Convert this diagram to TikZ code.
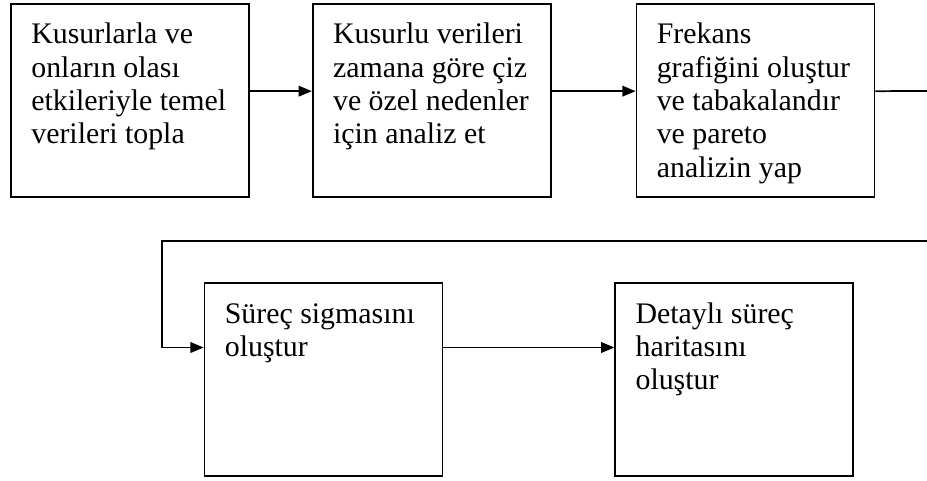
\documentclass[tikz,border=0pt]{standalone}
\usepackage{fontspec}
\setmainfont{Liberation Serif}
\usetikzlibrary{positioning,arrows.meta}
\newcommand{\steptext}[1]{\parbox[c][144.75pt][t]{148pt}{\raggedright\rule{0pt}{30pt}#1}}
\tikzset{
>={Triangle[length=10pt,width=8pt]},
  stepbox/.style={
    rectangle,
    draw=black, line width=1.3pt,
    inner xsep=15pt, inner ysep=0pt,
    minimum width=178.5pt,
    minimum height=144.75pt,
    font=\fontsize{22.4pt}{25pt}\selectfont},
  line/.style={draw, line width=1.3pt, ->},
  plainline/.style={draw, line width=1.3pt},
}

\begin{document}
\begin{tikzpicture}
  [x=0.75pt, y=-0.75pt,
  node distance=46.5pt]
  \useasboundingbox (0,0) rectangle (927,481);
     \node[stepbox] (TemelVeri) at (130,100.5) {\steptext{Kusurlarla ve\\onların olası\\etkileriyle temel\\verileri topla}};
     \node[stepbox, right=of TemelVeri] (ZamanaGore) {\steptext{Kusurlu verileri\\zamana göre çiz\\ve özel nedenler\\için analiz et}};
     \node[stepbox, right=63pt of ZamanaGore] (Frekans) {\steptext{Frekans\\grafiğini oluştur\\ve tabakalandır\\ve pareto\\analizin yap}};
     \node[stepbox] (SurecSigma) at (323.5,379.5) {\steptext{Süreç sigmasını\\oluştur}};
     \node[stepbox, right=128.25pt of SurecSigma] (SurecHarita) {\steptext{Detaylı süreç\\haritasını\\oluştur}};
  % the return line runs off the right edge and comes back below
     \coordinate (RightEdge) at (927,91);
     \coordinate (BackRight) at (927,241);
     \coordinate (BackLeft) at (162,241);
     \draw[line] ([yshift=7pt]TemelVeri.east) -- ([yshift=7pt]ZamanaGore.west);
     \draw[line] ([yshift=7pt]ZamanaGore.east) -- ([yshift=7pt]Frekans.west);
     \draw[plainline] ([yshift=7pt]Frekans.east) -- (RightEdge);
     \draw[line] (BackRight) -- (BackLeft) |- ([yshift=24pt]SurecSigma.west);
     \draw[line] ([yshift=24pt]SurecSigma.east) -- ([yshift=24pt]SurecHarita.west);
\end{tikzpicture}
\end{document}
